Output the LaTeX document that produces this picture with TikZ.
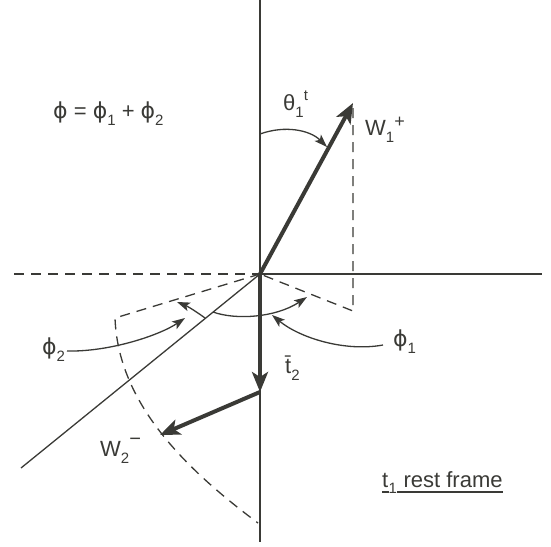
\documentclass[tikz,border=0pt]{standalone}
\usepackage{fontspec}
\setmainfont{Liberation Sans}
\newfontfamily\dvs{DejaVu Sans}
\usetikzlibrary{arrows.meta}
\definecolor{ink}{RGB}{58,58,54}
\newcommand\fphi{{\dvs ϕ}}
\newcommand\sbs[1]{\raisebox{-7pt}{\fontsize{15}{17}\selectfont #1}}
\newcommand\sps[2][8pt]{\raisebox{#1}{\fontsize{15}{17}\selectfont #2}}
\newcommand\supplus{\raisebox{8pt}{\fontsize{18}{20}\selectfont +}}
\newcommand\supminus{\raisebox{11pt}{\fontsize{20}{20}\selectfont −}}
\begin{document}
\begin{tikzpicture}[x=1pt,y=-1pt,line join=round,
  thinline/.style={draw=ink,line width=1.3pt},
  dashline/.style={draw=ink,line width=1.3pt,dash pattern=on 10pt off 7pt},
  vecarrow/.style={draw=ink,line width=4pt,-{Stealth[length=20pt,width=16pt,inset=5pt]}},
  angarrow/.style={draw=ink,line width=1.3pt,-{Stealth[length=13pt,width=9pt,inset=3pt]}},
  lbl/.style={text=ink,inner sep=0pt,anchor=base west,font=\fontsize{22}{26}\selectfont},
  uline/.style={draw=ink,line width=1.6pt}]
\path[use as bounding box] (0,0) rectangle (551,546);
% coordinates
\coordinate (O) at (260,274);
\coordinate (Vtop) at (260,0);
\coordinate (Vbot) at (260,542);
\coordinate (Hl) at (14,274);
\coordinate (Hr) at (542,274);
\coordinate (W1) at (353,103);
\coordinate (P1top) at (353,108);
\coordinate (P1) at (353,311);
\coordinate (P2) at (115,318);
\coordinate (Cend) at (258,523);
\coordinate (Dl) at (21,468);
\coordinate (T2) at (260,392);
\coordinate (W2) at (160,435);
% axes and lines
\draw[thinline] (Vtop) -- (Vbot);
\draw[thinline] (O) -- (Hr);
\draw[dashline] (Hl) -- (O);
\draw[thinline] (O) -- (Dl);
\draw[dashline] (P1top) -- (P1) -- (O);
\draw[dashline] (O) -- (P2) .. controls (118,400) and (180,465) .. (Cend);
% vectors
\draw[vecarrow] (O) -- (W1);
\draw[vecarrow] (O) -- (T2);
\draw[vecarrow] (T2) -- (W2);
% angle arrows
\coordinate (th0) at (260,134);
\coordinate (th1) at (327,147);
\draw[angarrow] (th0) .. controls (285,125) and (310,130) .. (th1);
\coordinate (a0) at (213,312);
\coordinate (a1) at (307,297);
\draw[angarrow] (a0) .. controls (235,320) and (275,318) .. (a1);
\coordinate (b0) at (205,318);
\coordinate (b1) at (177,302);
\draw[angarrow] (b0) .. controls (197,312) and (187,306) .. (b1);
\coordinate (c0) at (67,351);
\coordinate (c1) at (185,318);
\draw[angarrow] (c0) .. controls (110,352) and (160,335) .. (c1);
\coordinate (d0) at (383,345);
\coordinate (d1) at (272,315);
\draw[angarrow] (d0) .. controls (345,352) and (300,338) .. (d1);
% labels
\node[lbl] (theta) at (283,110) {θ\sbs{1}\sps[10pt]{t}};
\node[lbl] (w1lbl) at (365,135) {W\sbs{1}\supplus};
\node[lbl] (w2lbl) at (100,456) {W\sbs{2}\supminus};
\node[lbl] (phisum) at (53,118) {\fphi\ = \fphi\sbs{1} + \fphi\sbs{2}};
\node[lbl] (phi2lbl) at (42,354) {\fphi\sbs{2}};
\node[lbl] (phi1lbl) at (393,346) {\fphi\sbs{1}};
\node[lbl] (t2lbl) at (285,373) {\={t}\sbs{2}};
\node[lbl] (tt) at (382,487) {t};
\node[lbl,font=\fontsize{15}{17}\selectfont] (ts) at ([yshift=-6pt]tt.base east) {1};
\node[lbl] (rf) at (ts.base east |- tt.base) {\ rest frame};
\draw[uline] ([yshift=-5pt]tt.base west) -- ([yshift=-5pt]tt.base east);
\draw[uline] ([yshift=-5pt]rf.base west) -- ([yshift=-5pt]rf.base east);
\end{tikzpicture}
\end{document}
